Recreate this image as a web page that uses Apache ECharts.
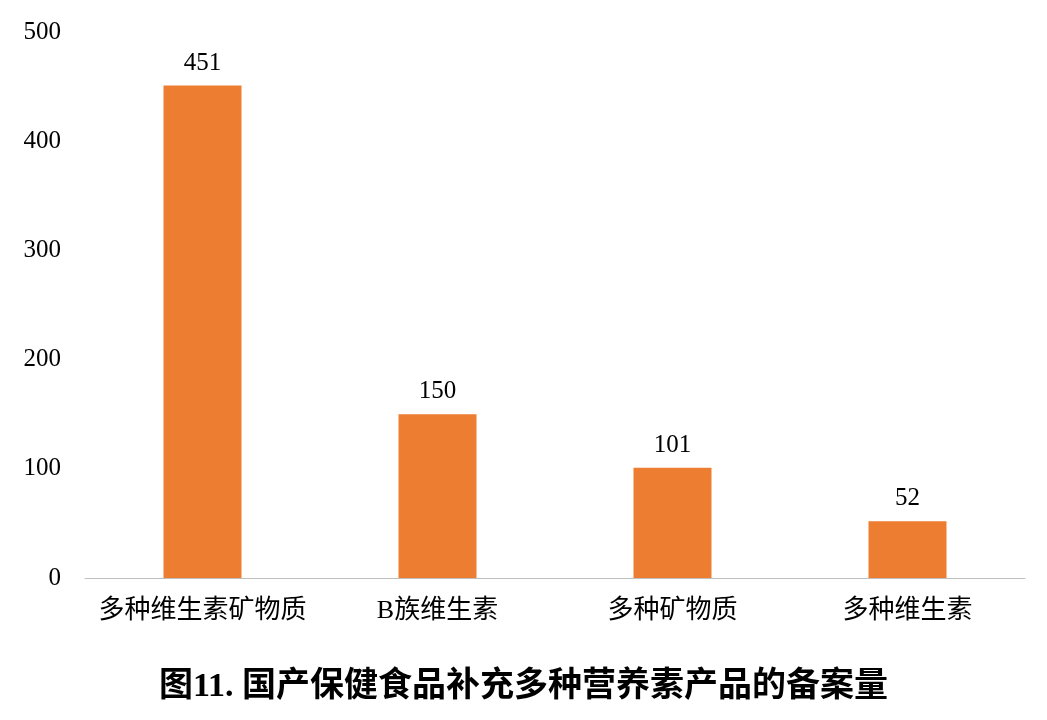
<!DOCTYPE html>
<html><head><meta charset="utf-8">
<script src="https://cdn.jsdelivr.net/npm/echarts@6/dist/echarts.min.js"></script>
<style>html,body{margin:0;padding:0;background:#fff}#c{width:1047px;height:720px}</style>
</head><body><div id="c"></div>
<script>
const categories = ['多种维生素矿物质','B族维生素','多种矿物质','多种维生素'];
const values = [451,150,101,52];
const font = '"Liberation Serif","Noto Sans CJK SC",serif';
const chart = echarts.init(document.getElementById('c'));
chart.setOption({
  animation:false,
  title:{text:'图11. 国产保健食品补充多种营养素产品的备案量',left:'center',top:665,
    textStyle:{fontFamily:font,fontSize:34,fontWeight:'bold',color:'#000'}},
  grid:{left:85,right:22,top:32,bottom:142},
  xAxis:{type:'category',data:categories,
    axisLine:{lineStyle:{color:'#bfbfbf'}},axisTick:{show:false},
    axisLabel:{interval:0,hideOverlap:false,fontFamily:font,fontSize:26,color:'#000',margin:20}},
  yAxis:{type:'value',min:0,max:500,interval:100,
    axisLine:{show:false},axisTick:{show:false},splitLine:{show:false},
    axisLabel:{fontFamily:font,fontSize:25,color:'#000',margin:24}},
  series:[{type:'bar',data:values,barWidth:78,itemStyle:{color:'#ed7d31'},
    label:{show:true,position:'top',fontFamily:font,fontSize:25,color:'#000',distance:10}}]
});
</script></body></html>
